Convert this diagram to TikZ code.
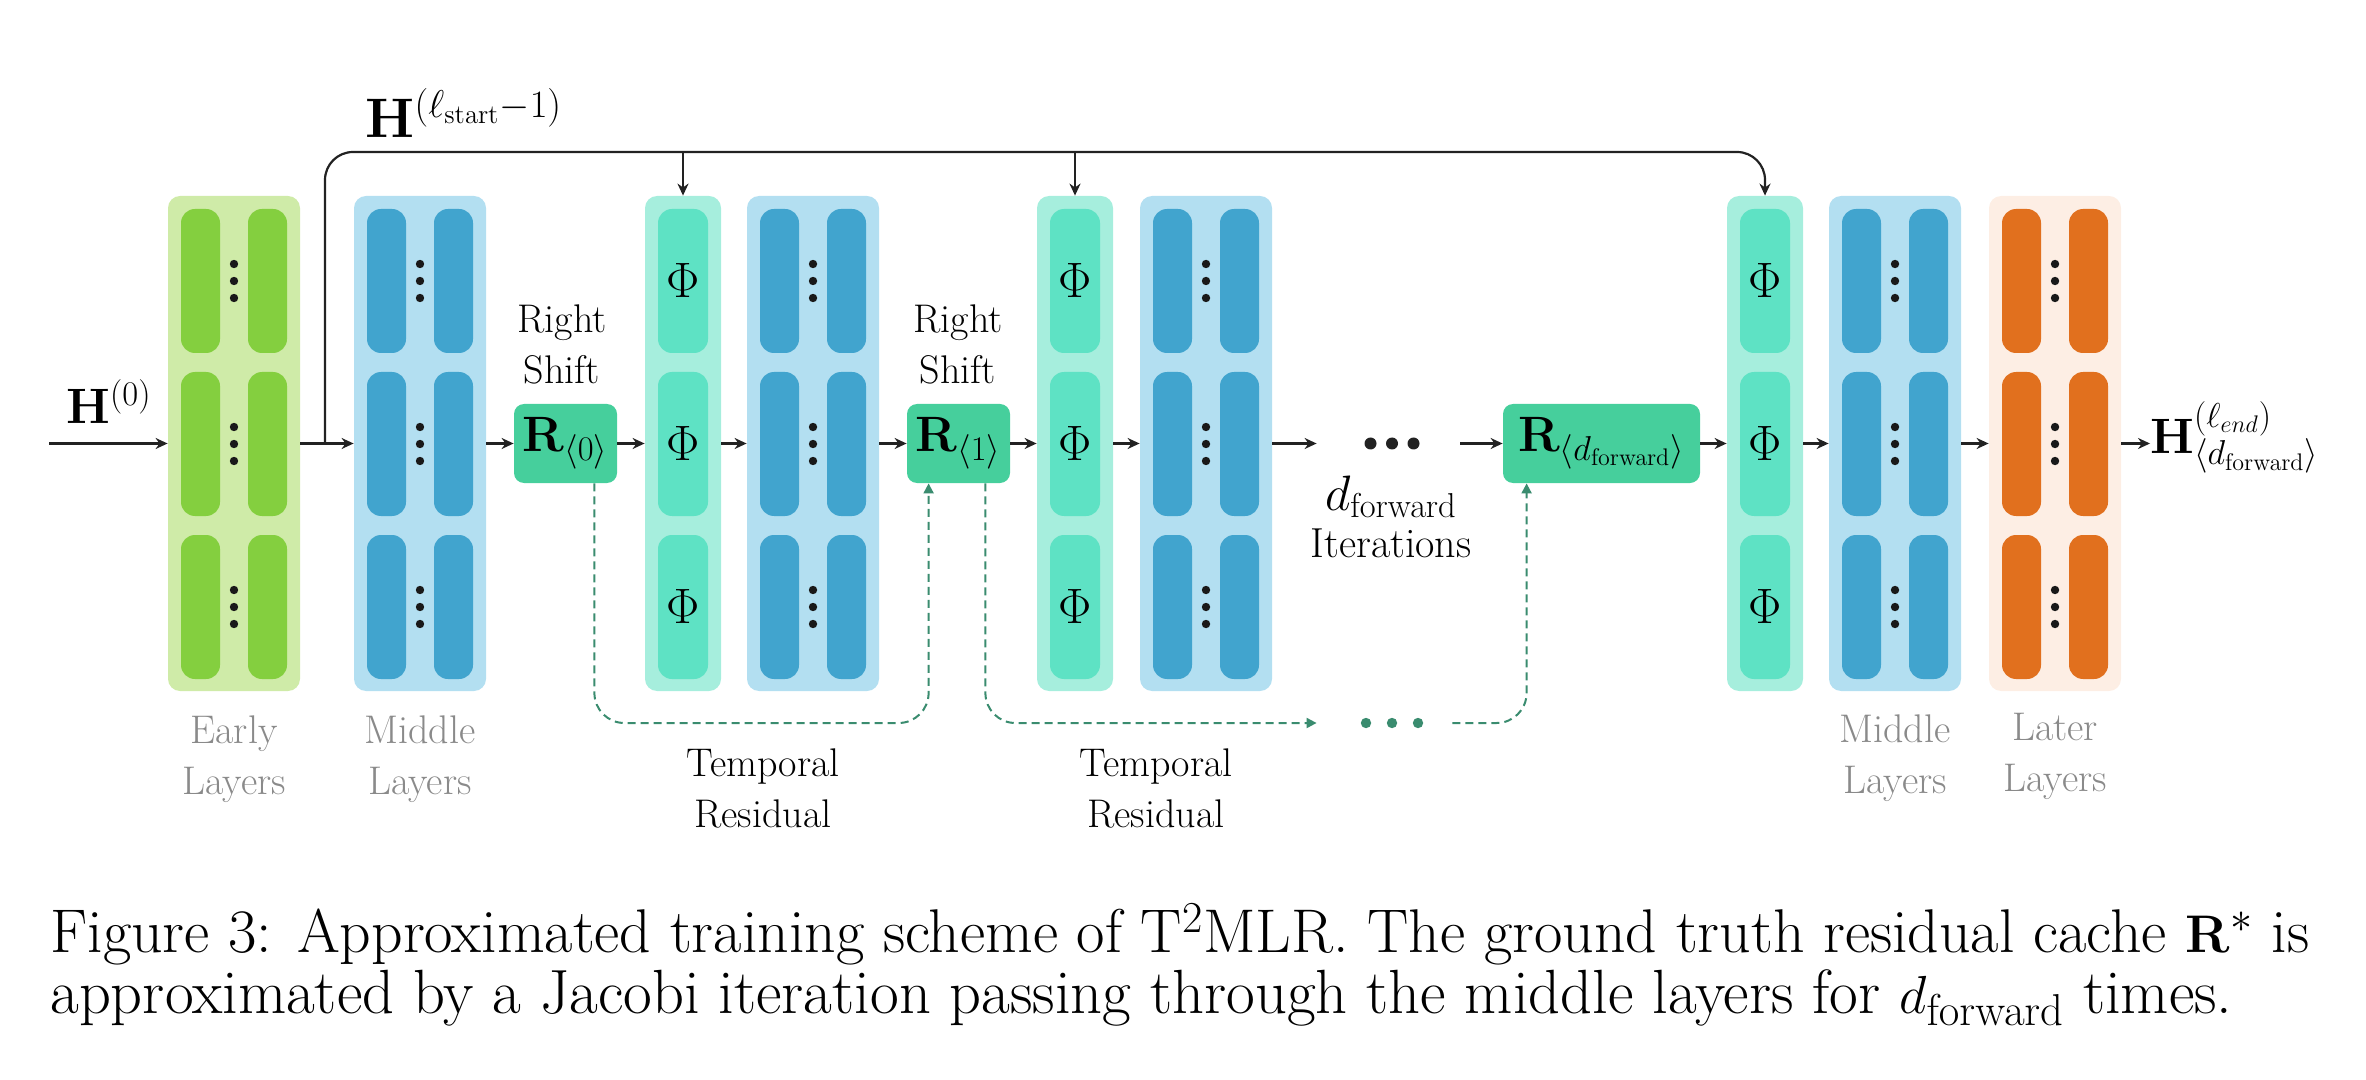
\documentclass[tikz,border=0pt]{standalone}
\usetikzlibrary{arrows.meta,calc}
\definecolor{earlyout}{HTML}{CFEBA8}
\definecolor{earlyin}{HTML}{84CF3F}
\definecolor{midout}{HTML}{B3DFF1}
\definecolor{midin}{HTML}{41A4CE}
\definecolor{phiout}{HTML}{A6EEDD}
\definecolor{phiin}{HTML}{5EE2C4}
\definecolor{rfill}{HTML}{46CF9C}
\definecolor{laterout}{HTML}{FDEEE4}
\definecolor{laterin}{HTML}{E1701E}
\definecolor{tealc}{HTML}{3A8C6F}
\definecolor{graytxt}{HTML}{8A8A8A}
\definecolor{arrowc}{HTML}{222222}
\tikzset{
 colbg/.style={rounded corners=6pt, inner sep=0pt, minimum height=247.5pt, draw=none},
 rbox/.style={fill=rfill, rounded corners=5pt, inner sep=0pt, minimum height=39.5pt, font=\fontsize{24}{28}\selectfont},
 lbl/.style={align=center, font=\fontsize{20}{25.5}\selectfont, inner sep=0pt},
 glbl/.style={lbl, text=graytxt},
 phitxt/.style={font=\fontsize{23}{26}\selectfont, inner sep=0pt},
 mathlbl/.style={font=\fontsize{24}{28}\selectfont, inner sep=1pt},
 flow/.style={line width=1.1pt, draw=arrowc, -{Stealth[length=6pt,width=5.5pt]}},
 dflow/.style={line width=1pt, draw=tealc, dash pattern=on 4pt off 2.5pt, -{Triangle[length=5pt,width=5pt]}},
 spacer/.style={inner sep=0pt, draw=none},
}
\newcommand{\layercol}[4]{%
  \node[colbg, minimum width=66pt, fill=#3] (#2) at (#1,443.5) {};
  \foreach \sy in {209,372,535} {
    \fill[#4, rounded corners=7pt] (#1-53,\sy) rectangle (#1-14,\sy+144);
    \fill[#4, rounded corners=7pt] (#1+14,\sy) rectangle (#1+53,\sy+144);
    \foreach \dd in {-17,0,17} \fill[black!90] (#1,\sy+72+\dd) circle (2.1pt);
  }
}
\newcommand{\phicol}[2]{%
  \node[colbg, minimum width=38pt, fill=phiout] (#2) at (#1,443.5) {};
  \foreach \sy in {209,372,535} {
    \fill[phiin, rounded corners=7pt] (#1-25,\sy) rectangle (#1+25,\sy+144);
    \node[phitxt] (#2p\sy) at (#1,\sy+72) {$\Phi$};
  }
}
\begin{document}
\begin{tikzpicture}[x=0.5pt,y=-0.5pt]
\useasboundingbox (0,0) rectangle (2366,1080);
% columns
\layercol{234}{early}{earlyout}{earlyin}
\layercol{420}{mid1}{midout}{midin}
\phicol{683}{phi1}
\layercol{813}{mid2}{midout}{midin}
\phicol{1075}{phi2}
\layercol{1206}{mid3}{midout}{midin}
\phicol{1765}{phi3}
\layercol{1895}{mid4}{midout}{midin}
\layercol{2055}{later}{laterout}{laterin}
% residual boxes
\node[rbox, minimum width=51.5pt] (r0) at (565.5,443.5) {$\mathbf{R}_{\langle 0\rangle}$};
\node[rbox, minimum width=51.5pt] (r1) at (958.5,443.5) {$\mathbf{R}_{\langle 1\rangle}$};
\node[rbox, minimum width=98.5pt] (rd) at (1601.5,443.5) {$\mathbf{R}_{\langle d_{\mathrm{forward}}\rangle}$};
% dots placeholders
\node[spacer, minimum width=71.5pt, minimum height=10pt] (dotsA) at (1388.5,443.5) {};
\fill[arrowc] (1370.5,443.5) circle (3pt);
\fill[arrowc] (1392,443.5) circle (3pt);
\fill[arrowc] (1413.5,443.5) circle (3pt);
\node[spacer, minimum width=67.5pt, minimum height=8pt] (dotsB) at (1384.5,723) {};
\fill[tealc] (1366,723) circle (2.6pt);
\fill[tealc] (1392,723) circle (2.6pt);
\fill[tealc] (1418,723) circle (2.6pt);
% labels
\node[mathlbl] (h0) at (109,402) {$\mathbf{H}^{(0)}$};
\node[mathlbl] (hs) at (464,113) {\scalebox{1.12}{$\mathbf{H}^{(\ell_{\mathrm{start}}-1)}$}};
\node[mathlbl, anchor=base west, inner sep=0pt] (hout) at (2150,453) {$\mathbf{H}^{(\ell_{end})}_{\langle d_{\mathrm{forward}}\rangle}$};
\node[lbl] (rs0) at (562,344) {Right\\Shift};
\node[lbl] (rs1) at (958,344) {Right\\Shift};
\node[glbl] (le) at (234,759) {Early\\Layers};
\node[glbl] (lm1) at (420,759) {Middle\\Layers};
\node[glbl] (lm4) at (1895,758) {Middle\\Layers};
\node[glbl] (ll) at (2055,756) {Later\\Layers};
\node[lbl] (tr0) at (763,788) {Temporal\\Residual};
\node[lbl] (tr1) at (1156,788) {Temporal\\Residual};
\node[lbl, font=\fontsize{25}{28}\selectfont, anchor=base] (dfw1) at (1391,510) {$d_{\mathrm{forward}}$};
\node[lbl, font=\fontsize{21}{24}\selectfont, anchor=base] (dfw2) at (1391,557) {Iterations};
% main flow
\coordinate (in0) at (49,443.5);
\coordinate (br) at (325,443.5);
\coordinate (topy) at (0,152);
\draw[flow] (in0) -- (early.west);
\draw[flow] (early.east) -- (mid1.west);
\draw[flow, rounded corners=14pt] (br) |- (phi3.north |- topy) -- (phi3.north);
\draw[flow] (phi1.north |- topy) -- (phi1.north);
\draw[flow] (phi2.north |- topy) -- (phi2.north);
\foreach \a/\b in {mid1/r0, r0/phi1, phi1/mid2, mid2/r1, r1/phi2, phi2/mid3, mid3/dotsA, dotsA/rd, rd/phi3, phi3/mid4, mid4/later}
  \draw[flow] (\a.east) -- (\b.west);
\draw[flow] (later.east) -- (later.east -| hout.west);
% temporal residual dashed
\coordinate (dy) at (0,723);
\coordinate (d0s) at ([xshift=-11.5pt]r0.south east);
\coordinate (d1e) at ([xshift=11pt]r1.south west);
\coordinate (d1s) at ([xshift=-12.5pt]r1.south east);
\coordinate (d2e) at ([xshift=12pt]rd.south west);
\draw[dflow, rounded corners=15pt] (d0s) -- (d0s |- dy) -- (d1e |- dy) -- (d1e);
\draw[dflow, rounded corners=15pt] (d1s) -- (d1s |- dy) -- (dotsB.west);
\draw[dflow, rounded corners=15pt] (dotsB.east) -- (d2e |- dy) -- (d2e);
% caption
\node[anchor=base west, inner sep=0pt] (cap1) at (50,952) {\resizebox{1129.5pt}{!}{\fontsize{29}{35}\selectfont Figure 3: Approximated training scheme of T$^2$MLR. The ground truth residual cache $\mathbf{R}^{*}$ is}};
\node[anchor=base west, inner sep=0pt] (cap2) at (50,1013) {\resizebox{1091pt}{!}{\fontsize{29}{35}\selectfont approximated by a Jacobi iteration passing through the middle layers for $d_{\mathrm{forward}}$ times.}};
\end{tikzpicture}
\end{document}
